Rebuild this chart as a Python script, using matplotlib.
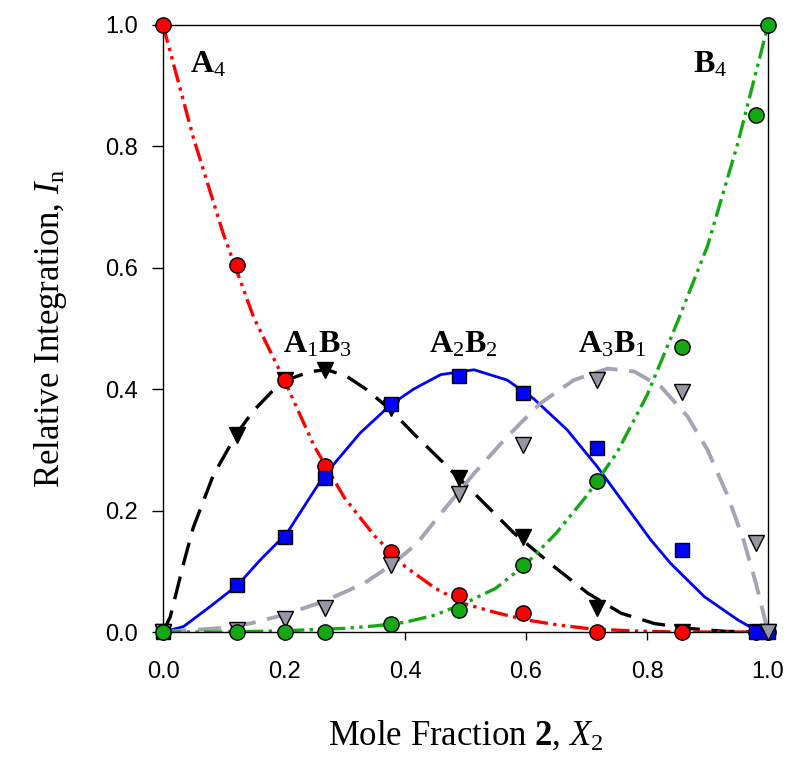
import matplotlib
matplotlib.use("Agg")
import matplotlib.pyplot as plt

plt.rcParams['mathtext.fontset'] = 'custom'
plt.rcParams['mathtext.rm'] = 'Liberation Serif'
plt.rcParams['mathtext.it'] = 'Liberation Serif:italic'
plt.rcParams['mathtext.bf'] = 'Liberation Serif:bold'

# measured points
x_pts = [0.0, 0.123, 0.201, 0.267, 0.377, 0.489, 0.595, 0.718, 0.858, 0.980, 1.0]
a4_pts = [1.0, 0.605, 0.415, 0.273, 0.132, 0.061, 0.031, 0.0, 0.0, 0.0, 0.0]
a1b3_pts = [0.0, 0.324, 0.415, 0.432, 0.369, 0.253, 0.157, 0.040, 0.0, 0.0, 0.0]
a2b2_pts = [0.0, 0.077, 0.156, 0.253, 0.376, 0.422, 0.393, 0.303, 0.135, 0.0, 0.0]
a3b1_pts = [0.0, 0.003, 0.021, 0.040, 0.110, 0.228, 0.308, 0.415, 0.396, 0.146, 0.0]
b4_pts = [0.0, 0.0, 0.0, 0.0, 0.014, 0.037, 0.110, 0.248, 0.470, 0.851, 1.0]

# fitted curves
x_fit = [0.0, 0.05, 0.10, 0.15, 0.20, 0.25, 0.30, 0.35, 0.40, 0.45, 0.50,
         0.55, 0.60, 0.65, 0.70, 0.75, 0.80, 0.85, 0.90, 0.95, 1.0]
a4_fit = [1.0, 0.815, 0.655, 0.518, 0.416, 0.306, 0.221, 0.158, 0.108, 0.072, 0.046,
          0.032, 0.020, 0.012, 0.006, 0.003, 0.001, 0.0, 0.0, 0.0, 0.0]
b4_fit = [0.0, 0.0, 0.0, 0.001, 0.002, 0.004, 0.006, 0.010, 0.016, 0.028, 0.048,
          0.072, 0.112, 0.163, 0.224, 0.295, 0.390, 0.510, 0.636, 0.805, 1.0]

a1b3_fit_x = [0.0, 0.012, 0.034, 0.05, 0.083, 0.122, 0.150, 0.180, 0.210, 0.243, 0.271,
              0.304, 0.337, 0.376, 0.414, 0.456, 0.514, 0.58, 0.646, 0.702, 0.757,
              0.812, 0.867, 0.93, 1.0]
a1b3_fit = [0.0, 0.025, 0.113, 0.172, 0.258, 0.327, 0.365, 0.396, 0.417, 0.429, 0.432,
            0.421, 0.399, 0.366, 0.327, 0.286, 0.229, 0.163, 0.108, 0.064, 0.031,
            0.014, 0.006, 0.001, 0.0]

a2b2_fit_x = [0.0, 0.034, 0.078, 0.123, 0.161, 0.205, 0.232, 0.265, 0.326, 0.376, 0.414,
              0.459, 0.514, 0.569, 0.613, 0.668, 0.718, 0.762, 0.806, 0.839, 0.895,
              0.95, 0.985]
a2b2_fit = [0.0, 0.009, 0.042, 0.077, 0.119, 0.163, 0.205, 0.256, 0.328, 0.374, 0.400,
            0.424, 0.432, 0.415, 0.384, 0.333, 0.272, 0.212, 0.152, 0.113, 0.058,
            0.020, 0.0]

a3b1_fit_x = [0.0, 0.089, 0.144, 0.199, 0.265, 0.332, 0.377, 0.42, 0.459, 0.514, 0.569,
              0.624, 0.679, 0.735, 0.779, 0.823, 0.867, 0.90, 0.933, 0.96, 0.98, 1.0]
a3b1_fit = [0.0, 0.006, 0.014, 0.028, 0.050, 0.080, 0.110, 0.146, 0.195, 0.261, 0.322,
            0.377, 0.415, 0.434, 0.429, 0.404, 0.355, 0.300, 0.225, 0.150, 0.080, 0.0]

x_ticks = [0.0, 0.2, 0.4, 0.6, 0.8, 1.0]
y_ticks = [0.0, 0.2, 0.4, 0.6, 0.8, 1.0]

fig = plt.figure(figsize=(8, 7.73), dpi=100)
ax = fig.add_axes([0.20375, 0.1824, 0.7563, 0.7853])

red = '#FF0000'
green = '#14A814'
blue = '#0000FF'
gray_line = '#A4A4B4'
gray_mk = '#9696A6'

dd = (0, (5.5, 1.6, 1.0, 1.6, 1.0, 1.6))
# lines
ax.plot(a1b3_fit_x, a1b3_fit, color='black', lw=2.4, linestyle=(0, (7, 3.5)), zorder=2)
ax.plot(x_fit, a4_fit, color=red, lw=2.4, linestyle=dd, zorder=2)
ax.plot(a2b2_fit_x, a2b2_fit, color=blue, lw=2.0, linestyle='-', zorder=2)
ax.plot(a3b1_fit_x, a3b1_fit, color=gray_line, lw=2.8, linestyle=(0, (6, 3)), zorder=2)
ax.plot(x_fit, b4_fit, color=green, lw=2.4, linestyle=dd, zorder=2)

ms = 11
kw = dict(linestyle='none', markeredgecolor='black', markeredgewidth=1.0, clip_on=False)
ax.plot(x_pts, a1b3_pts, marker='v', markersize=12, markerfacecolor='black', zorder=3, **kw)
ax.plot(x_pts, a4_pts, marker='o', markersize=ms, markerfacecolor=red, zorder=4, **kw)
ax.plot(x_pts, a2b2_pts, marker='s', markersize=10.5, markerfacecolor=blue, zorder=5, **kw)
ax.plot(x_pts, a3b1_pts, marker='v', markersize=12, markerfacecolor=gray_mk, zorder=6, **kw)
ax.plot(x_pts, b4_pts, marker='o', markersize=ms, markerfacecolor=green, zorder=7, **kw)

ax.set_xlim(0, 1)
ax.set_ylim(0, 1)
ax.set_xticks(x_ticks)
ax.set_yticks(y_ticks)
ax.set_xticklabels([f"{v:.1f}" for v in x_ticks], fontname='Liberation Sans', fontsize=17)
ax.set_yticklabels([f"{v:.1f}" for v in y_ticks], fontname='Liberation Sans', fontsize=17)
ax.tick_params(axis='x', direction='out', length=6, width=1, pad=15)
ax.tick_params(axis='y', direction='out', length=8, width=1, pad=10)
for s in ax.spines.values():
    s.set_linewidth(1.0)

ax.set_xlabel(r'Mole Fraction $\mathbf{2}$, $X_2$', fontname='Liberation Serif', fontsize=25, labelpad=26)
ax.set_ylabel(r'Relative Integration, $I_\mathrm{n}$', fontname='Liberation Serif', fontsize=25, labelpad=26)

tk = dict(fontsize=23, ha='center', va='baseline')
ax.text(0.075, 0.921, r'$\mathbf{A}_4$', **tk)
ax.text(0.905, 0.921, r'$\mathbf{B}_4$', **tk)
ax.text(0.255, 0.460, r'$\mathbf{A}_1\mathbf{B}_3$', **tk)
ax.text(0.497, 0.460, r'$\mathbf{A}_2\mathbf{B}_2$', **tk)
ax.text(0.743, 0.460, r'$\mathbf{A}_3\mathbf{B}_1$', **tk)

fig.savefig('out.png', dpi=100)
